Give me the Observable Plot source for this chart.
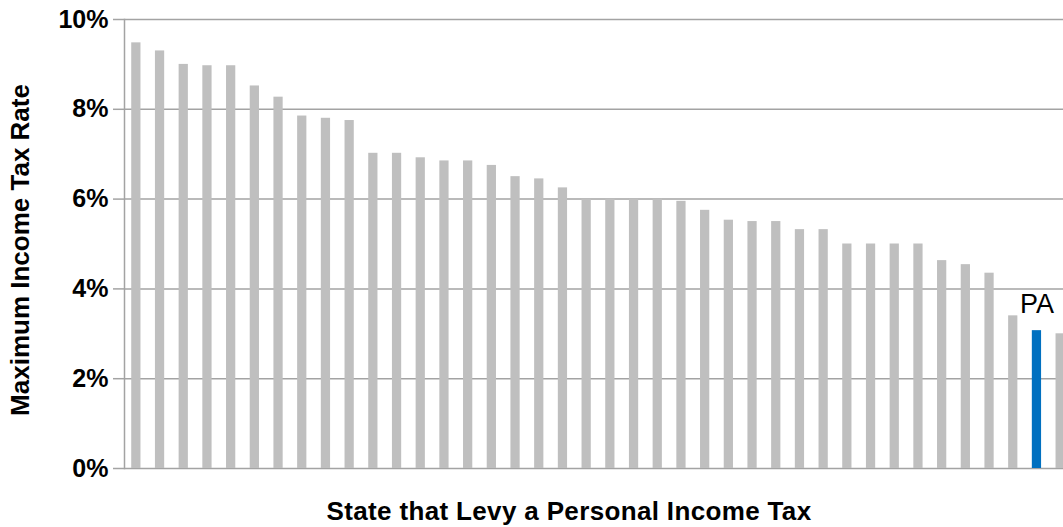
<!DOCTYPE html>
<html>
<head>
<meta charset="utf-8">
<script src="https://cdn.jsdelivr.net/npm/d3@7"></script>
<script src="https://cdn.jsdelivr.net/npm/@observablehq/plot@0.6"></script>
<style>
  html, body { margin: 0; padding: 0; background: #fff; overflow: hidden; }
</style>
</head>
<body>
<div id="chart"></div>
<script>
// States ranked by maximum personal income tax rate (highest first)
const rank = [1, 2, 3, 4, 5, 6, 7, 8, 9, 10,
              11, 12, 13, 14, 15, 16, 17, 18, 19, 20,
              21, 22, 23, 24, 25, 26, 27, 28, 29, 30,
              31, 32, 33, 34, 35, 36, 37, 38, 39, 40];
// Maximum income tax rate, percent
const rate = [9.48, 9.30, 9.00, 8.97, 8.97, 8.52, 8.27, 7.85, 7.80, 7.75,
              7.02, 7.02, 6.92, 6.85, 6.85, 6.75, 6.50, 6.45, 6.25, 6.00,
              6.00, 6.00, 6.00, 5.95, 5.75, 5.53, 5.50, 5.50, 5.32, 5.32,
              5.00, 5.00, 5.00, 5.00, 4.63, 4.54, 4.35, 3.40, 3.07, 3.00];
// Pennsylvania is called out
const highlightRank = 39;
const highlightLabel = "PA";

const yTicks = [0, 2, 4, 6, 8, 10];
const xTitle = "State that Levy a Personal Income Tax";
const yTitle = "Maximum Income Tax Rate";

const rows = rank.map((r, i) => ({rank: r, rate: rate[i], highlight: r === highlightRank}));

const font = '"Liberation Sans", Arial, Helvetica, sans-serif';
const gridColor = "#a3a3a3";
const barColor = "#bfbfbf";
const highlightColor = "#0070c0";

const chart = Plot.plot({
  width: 1063,
  height: 527,
  marginLeft: 124,
  marginRight: 0,
  marginTop: 19,
  marginBottom: 59,
  style: {fontFamily: font, background: "#fff", overflow: "hidden"},
  x: {type: "band", domain: rank, range: [124, 1072], paddingInner: 0.61, paddingOuter: 0.305, round: false, axis: null},
  y: {domain: [0, 10], axis: null},
  marks: [
    Plot.ruleY(yTicks, {stroke: gridColor, strokeWidth: 1.5}),
    Plot.axisY(yTicks, {
      anchor: "left",
      tickSize: 11,
      tickPadding: 5,
      tickFormat: d => d + "%",
      stroke: gridColor,
      strokeWidth: 1.5,
      fill: "#000",
      fontSize: 25,
      fontWeight: "bold",
      label: null
    }),
    Plot.frame({anchor: "left", stroke: gridColor, strokeWidth: 1.5}),
    Plot.barY(rows, {x: "rank", y: "rate", fill: d => d.highlight ? highlightColor : barColor}),
    Plot.text(rows.filter(d => d.highlight), {
      x: "rank", y: "rate", text: () => highlightLabel,
      dy: -18, lineAnchor: "bottom", textAnchor: "middle",
      fontSize: 27, fill: "#000"
    }),
    Plot.text([yTitle], {
      frameAnchor: "left", rotate: -90, dx: -104, dy: 6,
      textAnchor: "middle", lineAnchor: "middle",
      fontSize: 26, fontWeight: "bold", fill: "#000"
    }),
    Plot.text([xTitle], {
      frameAnchor: "bottom", dx: -25, dy: 43,
      textAnchor: "middle", lineAnchor: "middle",
      fontSize: 26, fontWeight: "bold", fill: "#000"
    })
  ]
});

// Slightly open up the horizontal title's tracking
d3.select(chart).selectAll("text")
  .filter(function() { return this.textContent === xTitle; })
  .attr("letter-spacing", "0.35px");

document.getElementById("chart").append(chart);
</script>
</body>
</html>
